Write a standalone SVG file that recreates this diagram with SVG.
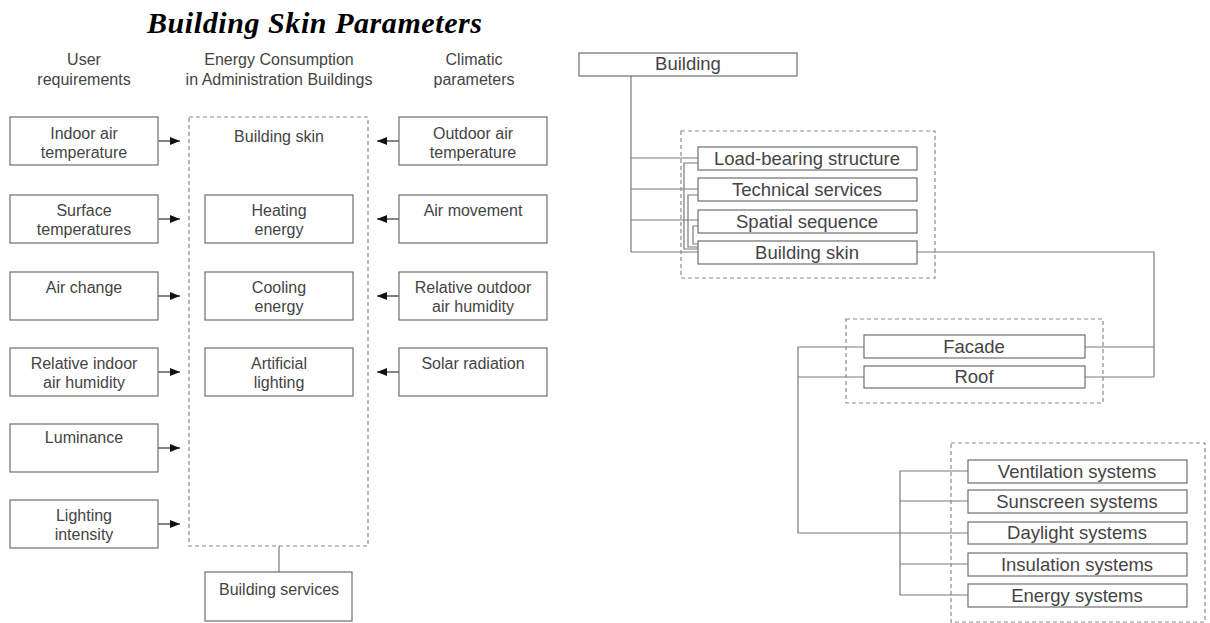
<svg xmlns="http://www.w3.org/2000/svg" width="1210" height="623" viewBox="0 0 1210 623">
<defs>
<style>
.bx{fill:#fff;stroke:#6e6e6e;stroke-width:1.2}
.dash{fill:none;stroke:#8a8a8a;stroke-width:1.2;stroke-dasharray:4 3}
.t{font-family:"Liberation Sans",Arial,sans-serif;font-size:16px;fill:#444;text-anchor:middle}
.tt{font-family:"Liberation Sans",Arial,sans-serif;font-size:18.5px;fill:#444;text-anchor:middle}
.ln{fill:none;stroke:#7a7a7a;stroke-width:1.2}
.ar{fill:none;stroke:#333;stroke-width:1.2;marker-end:url(#ah)}
.title{font-family:"Liberation Serif","Times New Roman",serif;font-size:30px;font-weight:bold;font-style:italic;fill:#000}
</style>
<marker id="ah" viewBox="0 0 10 8" refX="10" refY="4" markerWidth="11" markerHeight="8" markerUnits="userSpaceOnUse" orient="auto">
<path d="M0,0 L10,4 L0,8 Z" fill="#111"/>
</marker>
</defs>
<rect width="1210" height="623" fill="#fff"/>
<text class="title" x="147" y="33" textLength="335">Building Skin Parameters</text>
<g id="headers">
<text class="t" x="84" y="65">User</text>
<text class="t" x="84" y="85">requirements</text>
<text class="t" x="279" y="65">Energy Consumption</text>
<text class="t" x="279" y="85">in Administration Buildings</text>
<text class="t" x="474" y="65">Climatic</text>
<text class="t" x="474" y="85">parameters</text>
</g>
<g id="connectors">
<path class="ar" d="M158,141 H180"/>
<path class="ar" d="M158,219 H180"/>
<path class="ar" d="M158,296 H180"/>
<path class="ar" d="M158,372 H180"/>
<path class="ar" d="M158,448 H180"/>
<path class="ar" d="M158,524 H180"/>
<path class="ar" d="M399,141 H377"/>
<path class="ar" d="M399,219 H377"/>
<path class="ar" d="M399,296 H377"/>
<path class="ar" d="M399,372 H377"/>
<path class="ln" d="M279,546 V572"/>
<path class="ln" d="M631,76 V252 M631,158 H698 M631,189 H698 M631,220 H698 M631,252 H698"/>
<path class="ln" d="M698,163 H684 V249 H698 M698,195 H688 V247 H698 M698,226 H693 V244 H698"/>
<path class="ln" d="M917,252 H1154 V377 M1085,347 H1154 M1085,377 H1154"/>
<path class="ln" d="M864,347 H798 V533 H968 M798,377 H864"/>
<path class="ln" d="M968,471 H900 V595 H968 M900,501 H968 M900,564 H968"/>
</g>
<g id="energy-group"><rect class="dash" x="189" y="117" width="179" height="429"/><text class="t" x="279" y="142">Building skin</text></g>
<g id="indoor-air-temperature"><rect class="bx" x="10" y="117" width="148" height="48"/><text class="t" x="84" y="139">Indoor air</text><text class="t" x="84" y="158">temperature</text></g>
<g id="surface-temperatures"><rect class="bx" x="10" y="195" width="148" height="48"/><text class="t" x="84" y="216">Surface</text><text class="t" x="84" y="235">temperatures</text></g>
<g id="air-change"><rect class="bx" x="10" y="272" width="148" height="48"/><text class="t" x="84" y="293">Air change</text></g>
<g id="relative-indoor-air-humidity"><rect class="bx" x="10" y="348" width="148" height="48"/><text class="t" x="84" y="369">Relative indoor</text><text class="t" x="84" y="388">air humidity</text></g>
<g id="luminance"><rect class="bx" x="10" y="424" width="148" height="48"/><text class="t" x="84" y="443">Luminance</text></g>
<g id="lighting-intensity"><rect class="bx" x="10" y="500" width="148" height="48"/><text class="t" x="84" y="521">Lighting</text><text class="t" x="84" y="540">intensity</text></g>
<g id="heating-energy"><rect class="bx" x="205" y="195" width="148" height="48"/><text class="t" x="279" y="216">Heating</text><text class="t" x="279" y="235">energy</text></g>
<g id="cooling-energy"><rect class="bx" x="205" y="272" width="148" height="48"/><text class="t" x="279" y="293">Cooling</text><text class="t" x="279" y="312">energy</text></g>
<g id="artificial-lighting"><rect class="bx" x="205" y="348" width="148" height="48"/><text class="t" x="279" y="369">Artificial</text><text class="t" x="279" y="388">lighting</text></g>
<g id="building-services"><rect class="bx" x="205" y="572" width="147" height="49"/><text class="t" x="279" y="595">Building services</text></g>
<g id="outdoor-air-temperature"><rect class="bx" x="399" y="117" width="148" height="48"/><text class="t" x="473" y="139">Outdoor air</text><text class="t" x="473" y="158">temperature</text></g>
<g id="air-movement"><rect class="bx" x="399" y="195" width="148" height="48"/><text class="t" x="473" y="216">Air movement</text></g>
<g id="relative-outdoor-air-humidity"><rect class="bx" x="399" y="272" width="148" height="48"/><text class="t" x="473" y="293">Relative outdoor</text><text class="t" x="473" y="312">air humidity</text></g>
<g id="solar-radiation"><rect class="bx" x="399" y="348" width="148" height="48"/><text class="t" x="473" y="369">Solar radiation</text></g>
<g id="building"><rect class="bx" x="579" y="53" width="218" height="23"/><text class="tt" x="688" y="70">Building</text></g>
<g id="components-group"><rect class="dash" x="681" y="131" width="254" height="147"/></g>
<g id="load-bearing-structure"><rect class="bx" x="698" y="147" width="219" height="23"/><text class="tt" x="807" y="165">Load-bearing structure</text></g>
<g id="technical-services"><rect class="bx" x="698" y="178" width="219" height="23"/><text class="tt" x="807" y="196">Technical services</text></g>
<g id="spatial-sequence"><rect class="bx" x="698" y="210" width="219" height="23"/><text class="tt" x="807" y="228">Spatial sequence</text></g>
<g id="building-skin"><rect class="bx" x="698" y="241" width="219" height="23"/><text class="tt" x="807" y="259">Building skin</text></g>
<g id="skin-group"><rect class="dash" x="846" y="319" width="257" height="84"/></g>
<g id="facade"><rect class="bx" x="864" y="335" width="221" height="23"/><text class="tt" x="974" y="353">Facade</text></g>
<g id="roof"><rect class="bx" x="864" y="366" width="221" height="22"/><text class="tt" x="974" y="383">Roof</text></g>
<g id="systems-group"><rect class="dash" x="951" y="443" width="254" height="179"/></g>
<g id="ventilation-systems"><rect class="bx" x="968" y="460" width="219" height="23"/><text class="tt" x="1077" y="478">Ventilation systems</text></g>
<g id="sunscreen-systems"><rect class="bx" x="968" y="490" width="219" height="23"/><text class="tt" x="1077" y="508">Sunscreen systems</text></g>
<g id="daylight-systems"><rect class="bx" x="968" y="522" width="219" height="22"/><text class="tt" x="1077" y="539">Daylight systems</text></g>
<g id="insulation-systems"><rect class="bx" x="968" y="553" width="219" height="23"/><text class="tt" x="1077" y="571">Insulation systems</text></g>
<g id="energy-systems"><rect class="bx" x="968" y="584" width="219" height="23"/><text class="tt" x="1077" y="602">Energy systems</text></g>
</svg>
